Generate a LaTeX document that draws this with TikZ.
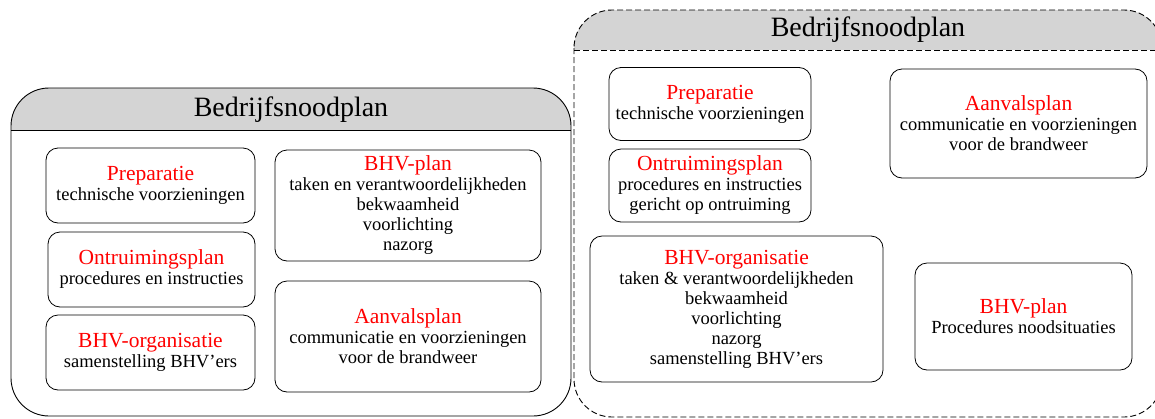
\documentclass[tikz,border=0pt]{standalone}
\usepackage{fontspec}
\setmainfont{Liberation Serif}
\usepackage{tikz}
\usetikzlibrary{positioning}

\newcommand{\kop}[1]{{\color{red}\fontsize{21.5}{22}\selectfont #1}\\}

\begin{document}
\begin{tikzpicture}[x=1pt, y=-1pt, font=\fontsize{18.5}{20}\selectfont,
  blok/.style={draw, rounded corners=12pt, align=center, line width=0.8pt},
  kader/.style={draw, rounded corners=38pt, line width=0.9pt},
  titel/.style={font=\fontsize{28}{30}\selectfont}]
  \useasboundingbox (0,0) rectangle (1155,418);

  % linker plan
  \begin{scope}
    \clip[rounded corners=38pt] (11,88) rectangle (571,416);
    \fill[black!17] (11,88) rectangle (571,130);
  \end{scope}
  \draw[kader] (11,88) rectangle (571,416);
  \draw[line width=0.9pt] (11,130) -- (571,130);
  \node[titel] (kopL) at (291,110) {Bedrijfsnoodplan};

  \node[blok, minimum width=209pt, minimum height=75pt] (prepL) at (150.5,185.5) {\kop{Preparatie}technische voorzieningen};
  \node[blok, minimum width=207pt, minimum height=75pt] (ontrL) at (151.5,269.5) {\kop{Ontruimingsplan}procedures en instructies};
  \node[blok, minimum width=209pt, minimum height=75pt] (orgL) at (150.5,352.5) {\kop{BHV-organisatie}samenstelling BHV'ers};
  \node[blok, minimum width=266pt, minimum height=111pt] (bhvL) at (408,205.5) {\kop{BHV-plan}taken en verantwoordelijkheden\\bekwaamheid\\voorlichting\\nazorg};
  \node[blok, minimum width=266pt, minimum height=111pt] (aanvL) at (408,336.5) {\kop{Aanvalsplan}communicatie en voorzieningen\\voor de brandweer};

  % rechter plan
  \begin{scope}
    \clip[rounded corners=38pt] (574,10) rectangle (1162,417);
    \fill[black!17] (574,10) rectangle (1162,50);
  \end{scope}
  \draw[kader, dash pattern=on 6pt off 3pt] (574,10) rectangle (1162,417);
  \draw[line width=0.9pt, dash pattern=on 6pt off 3pt] (574,50) -- (1162,50);
  \node[titel] (kopR) at (868,30) {Bedrijfsnoodplan};

  \node[blok, minimum width=202pt, minimum height=73pt] (prepR) at (710,104) {\kop{Preparatie}technische voorzieningen};
  \node[blok, minimum width=202pt, minimum height=73pt] (ontrR) at (710,185.5) {\kop{Ontruimingsplan}procedures en instructies\\gericht op ontruiming};
  \node[blok, minimum width=293pt, minimum height=146pt] (orgR) at (736.5,309) {\kop{BHV-organisatie}taken \& verantwoordelijkheden\\bekwaamheid\\voorlichting\\nazorg\\samenstelling BHV'ers};
  \node[blok, minimum width=257pt, minimum height=109pt] (aanvR) at (1018.5,123.5) {\kop{Aanvalsplan}communicatie en voorzieningen\\voor de brandweer};
  \node[blok, minimum width=217pt, minimum height=107pt] (bhvR) at (1023.5,316.5) {\kop{BHV-plan}Procedures noodsituaties};
\end{tikzpicture}
\end{document}
